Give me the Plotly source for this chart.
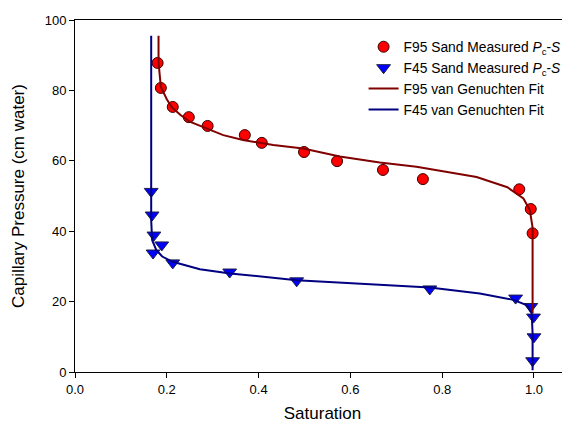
import plotly.graph_objects as go

# F95 sand measured
f95_s = [0.180, 0.187, 0.213, 0.248, 0.289, 0.370, 0.407, 0.499, 0.571, 0.671, 0.758, 0.968, 0.993, 0.997]
f95_p = [87.8, 80.7, 75.3, 72.4, 69.9, 67.3, 65.1, 62.5, 59.9, 57.4, 54.8, 51.9, 46.3, 39.4]

# F45 sand measured
f45_s = [0.166, 0.168, 0.172, 0.189, 0.170, 0.213, 0.337, 0.483, 0.773, 0.960, 0.993, 0.999, 1.000, 0.997]
f45_p = [51.3, 44.6, 38.9, 36.1, 33.8, 31.0, 28.4, 25.9, 23.6, 21.0, 18.6, 15.6, 10.0, 3.2]

# F95 van Genuchten fit
f95_fit_s = [0.182, 0.182, 0.187, 0.200, 0.211, 0.230, 0.250, 0.286, 0.323, 0.366, 0.432, 0.497,
             0.577, 0.664, 0.744, 0.875, 0.942, 0.977, 0.991, 0.997, 0.997, 0.997]
f95_fit_p = [95.5, 88.0, 81.0, 77.5, 75.2, 73.0, 71.1, 69.2, 67.3, 65.9, 64.5, 63.5,
             61.2, 59.5, 58.3, 55.4, 52.5, 49.3, 46.0, 41.0, 30.0, 16.7]

# F45 van Genuchten fit
f45_fit_s = [0.166, 0.166, 0.166, 0.168, 0.177, 0.190, 0.213, 0.272, 0.338, 0.483, 0.599, 0.708,
             0.773, 0.882, 0.955, 0.984, 0.995, 0.997, 0.997]
f45_fit_p = [95.5, 60.0, 43.2, 37.5, 34.7, 32.8, 31.3, 29.2, 28.0, 26.1, 25.2, 24.3,
             24.0, 22.3, 20.5, 19.0, 16.7, 11.0, 0.5]

x_ticks = [0.0, 0.2, 0.4, 0.6, 0.8, 1.0]
x_tick_labels = ["0.0", "0.2", "0.4", "0.6", "0.8", "1.0"]
y_ticks = [0, 20, 40, 60, 80, 100]

fig = go.Figure()

fig.add_trace(go.Scatter(
    x=f95_s, y=f95_p, mode="markers",
    name="F95 Sand Measured <i>P</i><sub>c</sub>-<i>S</i>",
    marker=dict(symbol="circle", size=11, color="#FF0000",
                line=dict(color="#3a0000", width=1)),
))
fig.add_trace(go.Scatter(
    x=f45_s, y=f45_p, mode="markers",
    name="F45 Sand Measured <i>P</i><sub>c</sub>-<i>S</i>",
    marker=dict(symbol="triangle-down", size=12, color="#0000FF",
                line=dict(color="#202040", width=1)),
))
fig.add_trace(go.Scatter(
    x=f95_fit_s, y=f95_fit_p, mode="lines",
    name="F95 van Genuchten Fit",
    line=dict(color="#800000", width=2),
))
fig.add_trace(go.Scatter(
    x=f45_fit_s, y=f45_fit_p, mode="lines",
    name="F45 van Genuchten Fit",
    line=dict(color="#000080", width=2),
))

# the page body has an 8px margin, so the figure is sized and offset to compensate
fig.update_layout(
    width=562, height=415,
    margin=dict(l=67, r=0, t=12, b=51, autoexpand=False),
    paper_bgcolor="white", plot_bgcolor="white",
    font=dict(family="Liberation Sans, Arial, sans-serif", size=13, color="black"),
    showlegend=True,
    legend=dict(x=0.583, y=0.968, xanchor="left", yanchor="top",
                bgcolor="rgba(0,0,0,0)", font=dict(size=13.8),
                traceorder="normal", itemwidth=30, tracegroupgap=0),
    xaxis=dict(
        range=[0, 1.0785], tickvals=x_ticks, ticktext=x_tick_labels,
        showgrid=False, zeroline=False, showline=True, linecolor="black", linewidth=1,
        mirror=True, ticks="outside", ticklen=5, tickcolor="black", automargin=False,
        title=dict(text="Saturation", font=dict(size=17)),
    ),
    yaxis=dict(
        range=[0, 100], tickvals=y_ticks,
        showgrid=False, zeroline=False, showline=True, linecolor="black", linewidth=1,
        ticks="outside", ticklen=5, tickcolor="black", automargin=False,
        title=dict(text="Capillary Pressure (cm water)", font=dict(size=17)),
    ),
)

fig.write_html("out.html")
